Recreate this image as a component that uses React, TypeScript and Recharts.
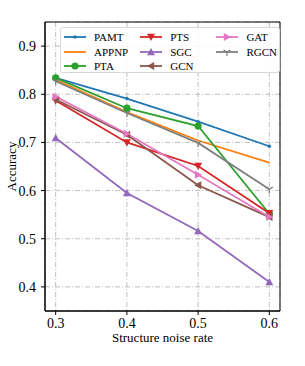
import React from "react";
import {
  LineChart,
  Line,
  XAxis,
  YAxis,
  CartesianGrid,
  ReferenceArea,
} from "recharts";

const noiseRates = [0.3, 0.4, 0.5, 0.6];
const xTicks = [0.3, 0.4, 0.5, 0.6];
const yTicks = [0.4, 0.5, 0.6, 0.7, 0.8, 0.9];

const pamt = [0.834, 0.791, 0.743, 0.692];
const appnp = [0.83, 0.763, 0.704, 0.658];
const pta = [0.834, 0.771, 0.734, 0.552];
const pts = [0.787, 0.7, 0.651, 0.553];
const sgc = [0.709, 0.595, 0.516, 0.41];
const gcn = [0.789, 0.716, 0.611, 0.545];
const gat = [0.795, 0.718, 0.633, 0.545];
const rgcn = [0.827, 0.761, 0.699, 0.603];

const series = [
  { key: "PAMT", values: pamt, color: "#1f77b4", marker: "point" },
  { key: "APPNP", values: appnp, color: "#ff7f0e", marker: "none" },
  { key: "PTA", values: pta, color: "#2ca02c", marker: "circle" },
  { key: "PTS", values: pts, color: "#d62728", marker: "down" },
  { key: "SGC", values: sgc, color: "#9467bd", marker: "up" },
  { key: "GCN", values: gcn, color: "#8c564b", marker: "left" },
  { key: "GAT", values: gat, color: "#e377c2", marker: "right" },
  { key: "RGCN", values: rgcn, color: "#7f7f7f", marker: "tri" },
];

const data = noiseRates.map((x, i) => {
  const row: Record<string, number> = { x };
  series.forEach((s) => {
    row[s.key] = s.values[i];
  });
  return row;
});

const FONT = "Liberation Serif, Times New Roman, serif";

function Marker({ cx, cy, shape, color }: any) {
  const r = 4;
  switch (shape) {
    case "point":
      return <circle cx={cx} cy={cy} r={1.8} fill={color} />;
    case "circle":
      return <circle cx={cx} cy={cy} r={3.6} fill={color} />;
    case "down":
      return (
        <polygon
          points={`${cx - r},${cy - r * 0.8} ${cx + r},${cy - r * 0.8} ${cx},${cy + r}`}
          fill={color}
        />
      );
    case "up":
      return (
        <polygon
          points={`${cx - r},${cy + r * 0.8} ${cx + r},${cy + r * 0.8} ${cx},${cy - r}`}
          fill={color}
        />
      );
    case "left":
      return (
        <polygon
          points={`${cx + r * 0.8},${cy - r} ${cx + r * 0.8},${cy + r} ${cx - r},${cy}`}
          fill={color}
        />
      );
    case "right":
      return (
        <polygon
          points={`${cx - r * 0.8},${cy - r} ${cx - r * 0.8},${cy + r} ${cx + r},${cy}`}
          fill={color}
        />
      );
    case "tri":
      return (
        <g stroke={color} strokeWidth={1.2}>
          <line x1={cx} y1={cy} x2={cx} y2={cy + r} />
          <line x1={cx} y1={cy} x2={cx - r * 0.87} y2={cy - r * 0.5} />
          <line x1={cx} y1={cy} x2={cx + r * 0.87} y2={cy - r * 0.5} />
        </g>
      );
    default:
      return <g />;
  }
}

function makeDot(shape: string, color: string) {
  return (props: any) => (
    <Marker key={props.index} cx={props.cx} cy={props.cy} shape={shape} color={color} />
  );
}

function LegendBox() {
  const cols = [series.slice(0, 3), series.slice(3, 6), series.slice(6)];
  return (
    <div
      style={{
        position: "absolute",
        left: 60,
        top: 27,
        boxSizing: "border-box",
        width: 220,
        height: 46,
        border: "1px solid #d9d9d9",
        borderRadius: 3,
        background: "rgba(255,255,255,0.85)",
        display: "flex",
        paddingTop: 2,
        fontFamily: FONT,
        fontSize: 11,
      }}
    >
      {cols.map((col, ci) => (
        <div key={ci} style={{ width: ci === 2 ? 66 : 77, paddingLeft: 2 }}>
          {col.map((s) => (
            <div key={s.key} style={{ display: "flex", alignItems: "center", height: 14.5 }}>
              <svg width={24} height={12} style={{ marginRight: 7 }}>
                <line x1={1} y1={6} x2={23} y2={6} stroke={s.color} strokeWidth={1.8} />
                <Marker cx={12} cy={6} shape={s.marker} color={s.color} />
              </svg>
              <span>{s.key}</span>
            </div>
          ))}
        </div>
      ))}
    </div>
  );
}

export default function App() {
  return (
    <div style={{ position: "absolute", left: 0, top: 0, width: 305, height: 366, background: "#fff" }}>
      <LineChart
        width={305}
        height={366}
        data={data}
        margin={{ top: 22, right: 25, bottom: 25, left: 0 }}
      >
        <CartesianGrid stroke="#b0b0b0" strokeDasharray="5 2 1 2" strokeWidth={0.8} />
        <XAxis
          dataKey="x"
          type="number"
          domain={[0.285, 0.615]}
          ticks={xTicks}
          tickFormatter={(v: number) => v.toFixed(1)}
          height={30}
          tickSize={4}
          tickMargin={3}
          stroke="#000"
          tick={{ fill: "#000", fontFamily: FONT, fontSize: 14 }}
          label={{
            content: () => (
              <text x={162.5} y={342} textAnchor="middle" fontFamily={FONT} fontSize={13} fill="#000">
                Structure noise rate
              </text>
            ),
          }}
        />
        <YAxis
          type="number"
          domain={[0.35, 0.95]}
          ticks={yTicks}
          tickFormatter={(v: number) => v.toFixed(1)}
          width={45}
          tickSize={4}
          tickMargin={5}
          stroke="#000"
          allowDataOverflow
          tick={{ fill: "#000", fontFamily: FONT, fontSize: 14 }}
          label={{
            content: () => (
              <text
                x={16}
                y={166.5}
                transform="rotate(-90 16 166.5)"
                textAnchor="middle"
                fontFamily={FONT}
                fontSize={13}
                fill="#000"
              >
                Accuracy
              </text>
            ),
          }}
        />
        <ReferenceArea x1={0.285} x2={0.615} y1={0.35} y2={0.95} fill="none" stroke="#000" strokeWidth={1} />
        {series.map((s) => (
          <Line
            key={s.key}
            dataKey={s.key}
            stroke={s.color}
            strokeWidth={1.8}
            dot={makeDot(s.marker, s.color)}
            activeDot={false}
            isAnimationActive={false}
          />
        ))}
      </LineChart>
      <LegendBox />
    </div>
  );
}
